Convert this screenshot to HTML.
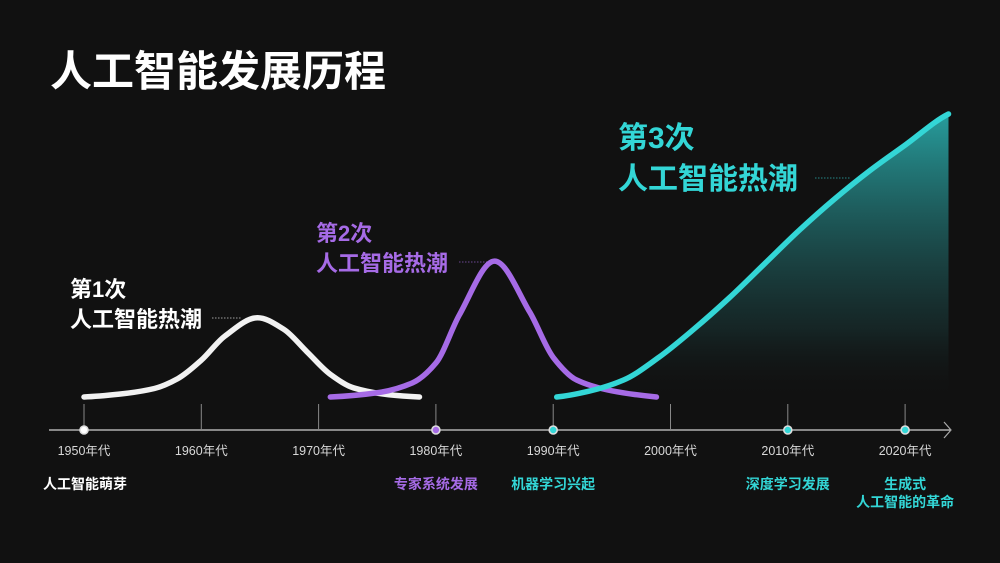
<!DOCTYPE html>
<html><head><meta charset="utf-8">
<style>
html,body{margin:0;padding:0;background:#111111;}
body{width:1000px;height:563px;overflow:hidden;position:relative;font-family:"Liberation Sans","Noto Sans CJK SC",sans-serif;}
svg{position:absolute;left:0;top:0;}
</style></head>
<body>
<svg id="chart" width="1000" height="563">
<defs>
<linearGradient id="cg" x1="0" y1="0" x2="0" y2="1">
<stop offset="0" stop-color="#2bb5b5" stop-opacity="0.85"/>
<stop offset="0.75" stop-color="#1a3a3a" stop-opacity="0.5"/>
<stop offset="1" stop-color="#111111" stop-opacity="0"/>
</linearGradient>
</defs>
<text x="50" y="86" fill="#ffffff" font-size="42" font-weight="bold" font-family="Liberation Sans, Noto Sans CJK SC, sans-serif">人工智能发展历程</text>
<g id="marks"></g>
<g id="axis"></g>
<g id="labels"></g>
</svg>
<script>
const decades = [1950,1960,1970,1980,1990,2000,2010,2020];
const decadeLabels = ["1950年代","1960年代","1970年代","1980年代","1990年代","2000年代","2010年代","2020年代"];
const milestoneText = ["人工智能萌芽","","","专家系统发展","机器学习兴起","","深度学习发展","生成式\n人工智能的革命"];
const milestoneColor = ["#ffffff","","","#a66be6","#33d6d6","","#33d6d6","#33d6d6"];
const dotColor = ["#ffffff",null,null,"#a66be6","#33d6d6",null,"#33d6d6","#33d6d6"];
const wave1Years = [1950,1953,1956,1958,1960,1962,1964.8,1967,1969,1971,1973,1976,1978.6];
const wave1Values = [0,1,3,6.5,13,21.5,28,24,16,8,3.2,0.8,0];
const wave2Years = [1971,1975,1978,1980,1982,1985,1988,1990,1992,1995,1998.8];
const wave2Values = [0,1.5,5,12,29,48,30,14,6,2.2,0];
const wave3Years = [1990.3,1993,1996,1999,2002,2005,2008,2011,2014,2017,2020,2023.7];
const wave3Values = [0,2,6,14,24,35,47,59,70,80,89,100];

const NS="http://www.w3.org/2000/svg";
const xS = y => 84 + (y-1950)*11.73;
const yS = v => 397 - v*2.83;
function el(t,a,p){const e=document.createElementNS(NS,t);for(const k in a)e.setAttribute(k,a[k]);p.appendChild(e);return e;}
function pathD(xs,vs){
  const p=xs.map((x,i)=>[xS(x),yS(vs[i])]);
  const n=p.length, d=[], m=[];
  for(let i=0;i<n-1;i++) d.push((p[i+1][1]-p[i][1])/(p[i+1][0]-p[i][0]));
  for(let i=0;i<n;i++){
    if(i===0) m.push(d[0]*0.5);
    else if(i===n-1) m.push(d[n-2]*0.7);
    else if(d[i-1]*d[i]<=0) m.push(0);
    else { const h0=p[i][0]-p[i-1][0], h1=p[i+1][0]-p[i][0];
      const w1=2*h1+h0, w2=h1+2*h0; m.push((w1+w2)/(w1/d[i-1]+w2/d[i])); }
  }
  let s="M"+p[0][0]+","+p[0][1];
  for(let i=0;i<n-1;i++){
    const h=(p[i+1][0]-p[i][0])/3;
    s+=` C${p[i][0]+h},${p[i][1]+m[i]*h} ${p[i+1][0]-h},${p[i+1][1]-m[i+1]*h} ${p[i+1][0]},${p[i+1][1]}`;
  }
  return s;
}
const marks=document.getElementById('marks');
const axis=document.getElementById('axis');
const labels=document.getElementById('labels');

const d3=pathD(wave3Years,wave3Values);
const last=wave3Years.length-1;
const area=el('path',{d:d3+` L${xS(wave3Years[last])},400 L${xS(wave3Years[0])},400 Z`,fill:'url(#cg)'},marks);


const w1=el('path',{d:pathD(wave1Years,wave1Values),fill:'none',stroke:'#f2f2f2','stroke-width':5.5,'stroke-linecap':'round'},marks);


const w2=el('path',{d:pathD(wave2Years,wave2Values),fill:'none',stroke:'#a66be6','stroke-width':5.5,'stroke-linecap':'round'},marks);


const w3=el('path',{d:d3,fill:'none',stroke:'#33d6d6','stroke-width':5.5,'stroke-linecap':'round'},marks);



const ax=el('line',{x1:49,y1:430,x2:950,y2:430,stroke:'#d0d0d0','stroke-width':1.3},axis);


const ar=el('path',{d:'M944,422 L951,430 L944,438',fill:'none',stroke:'#aaaaaa','stroke-width':1.2},axis);



decades.forEach((y,i)=>{
  const x=xS(y);
  const t=el('line',{x1:x,y1:404,x2:x,y2:430,stroke:'#888','stroke-width':1},axis);
  
  
  if(dotColor[i]){
    const c=el('circle',{cx:x,cy:430,r:4,fill:dotColor[i],stroke:'#dddddd','stroke-width':1.6},axis);
    
    
  }
  const tl=el('text',{x:x,y:455,fill:'#d8d8d8','font-size':12.5,'text-anchor':'middle'},axis);
  tl.textContent=decadeLabels[i];
  
  
  if(milestoneText[i]){
    const lines=milestoneText[i].split("\n");
    lines.forEach((s,j)=>{
      const m=el('text',{x:i===0?x+1:x,y:489+j*18,fill:milestoneColor[i],'font-size':14,'font-weight':'bold','text-anchor':'middle'},labels);
      m.textContent=s;
      
      
    });
  }
});

function waveLabel(x,y1,y2,fs,col,n,lx1,lx2,ly){
  const a=el('text',{x:x,y:y1,fill:col,'font-size':fs,'font-weight':'bold'},labels);
  a.textContent='第'+n+'次';
  
  
  const b=el('text',{x:x,y:y2,fill:col,'font-size':fs,'font-weight':'bold'},labels);
  b.textContent='人工智能热潮';
  
  
  const l=el('line',{x1:lx1,y1:ly,x2:lx2,y2:ly,stroke:col,'stroke-width':1,'stroke-dasharray':'1.5,1.5',opacity:0.6},labels);
  
  
}
waveLabel(70,297,327,22,'#ffffff',1,212,242,318);
waveLabel(316,241,271,22,'#a66be6',2,459,490,262);
waveLabel(618,148,189,30,'#33d6d6',3,815,850,178);
</script>
</body></html>
